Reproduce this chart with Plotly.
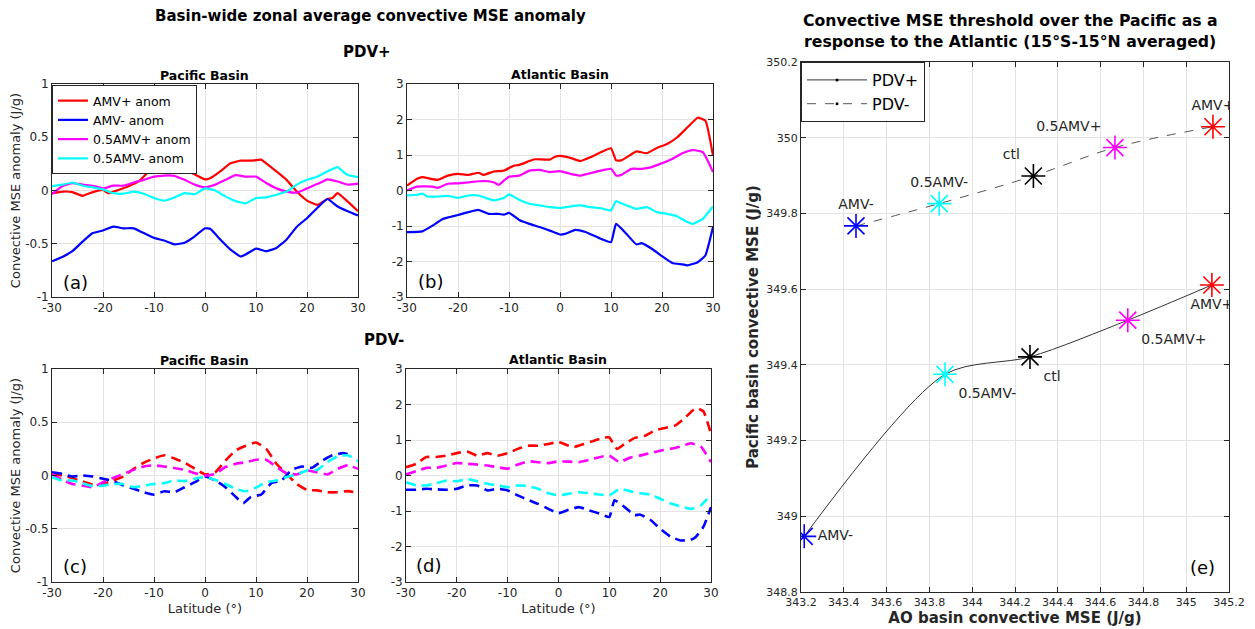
import plotly.graph_objects as go

# ---------------- data ----------------
lat_a_red = [-30,-28,-26,-24,-22,-20,-19,-17,-15,-13,-11,-10,-8,-6,-4,-2,0,1,3,5,7,9,11,12,14,16,18,20,22,24,25,26,28,30]
a_red = [-0.025,-0.01,-0.015,-0.05,-0.015,0.005,-0.025,0.005,0.04,0.085,0.18,0.225,0.22,0.21,0.195,0.15,0.105,0.115,0.18,0.255,0.28,0.28,0.29,0.255,0.18,0.1,-0.01,-0.095,-0.135,-0.08,-0.07,-0.025,-0.105,-0.195]
lat_a_blue = [-30,-28,-26,-24,-22,-20,-18,-16,-14,-12,-10,-8,-6,-4,-2,0,1,3,5,7,8,10,12,14,16,18,20,22,24,26,28,30]
a_blue = [-0.665,-0.625,-0.57,-0.48,-0.4,-0.375,-0.34,-0.355,-0.355,-0.4,-0.445,-0.47,-0.505,-0.49,-0.43,-0.355,-0.36,-0.46,-0.555,-0.62,-0.6,-0.545,-0.57,-0.54,-0.46,-0.34,-0.26,-0.165,-0.08,-0.15,-0.195,-0.235]
lat_a_mag = [-30,-28,-26,-24,-22,-20,-18,-16,-14,-12,-10,-8,-6,-4,-2,0,2,4,6,8,10,12,14,16,18,20,22,24,26,28,30]
a_mag = [-0.035,0.04,0.07,0.055,0.045,0.02,0.045,0.045,0.075,0.1,0.13,0.14,0.138,0.1,0.055,0.03,0.055,0.1,0.145,0.13,0.13,0.07,0.02,-0.01,-0.02,0.02,0.06,0.105,0.085,0.055,0.065]
lat_a_cyan = [-30,-28,-26,-24,-22,-20,-18,-16,-14,-12,-10,-8,-6,-4,-2,0,2,4,6,8,10,12,14,16,18,20,22,24,26,27,28,30]
a_cyan = [0.04,0.055,0.075,0.045,0.03,0.01,-0.025,-0.03,-0.01,-0.03,-0.07,-0.095,-0.065,-0.025,-0.035,0.02,0.0,-0.055,-0.1,-0.12,-0.07,-0.065,-0.04,-0.01,0.055,0.1,0.13,0.18,0.22,0.18,0.145,0.125]

lat_b_red = [-30,-28,-27,-24,-22,-20,-18,-16,-15,-13,-11,-9,-8,-6,-5,-2,-1,0,2,4,6,8,10,11,12,14,15,17,19,21,23,25,27,28.5,30]
b_red = [0.14,0.33,0.375,0.3,0.42,0.47,0.44,0.5,0.44,0.535,0.56,0.7,0.72,0.83,0.88,0.87,0.95,0.975,0.92,0.83,0.94,1.08,1.19,0.85,0.85,1.02,1.1,1.05,1.2,1.31,1.5,1.78,2.05,1.97,0.98]
lat_b_mag = [-30,-28,-25,-24,-22,-20,-18,-16,-14,-13,-12,-11,-10,-8,-6,-4,-2,0,2,4,6,8,10,11,12,14,16,18,20,22,24,26,28,30]
b_mag = [0.0,0.11,0.11,0.075,0.19,0.2,0.23,0.26,0.26,0.23,0.16,0.28,0.39,0.42,0.56,0.58,0.52,0.545,0.47,0.42,0.49,0.56,0.61,0.42,0.44,0.61,0.61,0.66,0.77,0.89,1.05,1.14,1.08,0.52]
lat_b_cyan = [-30,-28,-27,-26,-24,-22,-20,-18,-16,-14,-13,-11,-10,-8,-6,-4,-2,0,2,4,6,8,10,11,12,14,15,17,19,21,23,25,26,28,30]
b_cyan = [-0.14,-0.12,-0.09,-0.17,-0.17,-0.15,-0.21,-0.14,-0.14,-0.235,-0.28,-0.21,-0.11,-0.26,-0.375,-0.42,-0.47,-0.49,-0.45,-0.42,-0.47,-0.5,-0.56,-0.3,-0.36,-0.47,-0.52,-0.47,-0.61,-0.66,-0.73,-0.89,-0.94,-0.8,-0.45]
lat_b_blue = [-30,-27,-25,-23,-20,-18,-16,-14,-12,-11,-10,-8,-6,-4,-2,0,1,3,5,8,10,11,13,15,16,18,20,22,24,25,27,28.5,30]
b_blue = [-1.17,-1.15,-0.99,-0.8,-0.69,-0.61,-0.545,-0.66,-0.66,-0.68,-0.63,-0.83,-0.94,-1.03,-1.13,-1.24,-1.22,-1.11,-1.17,-1.36,-1.455,-0.94,-1.22,-1.52,-1.48,-1.64,-1.85,-2.04,-2.08,-2.11,-2.02,-1.83,-1.03]

lat_c_red = [-30,-27,-25,-22,-20,-18,-16,-14,-12,-10,-8,-6,-4,-2,0,2,4,6,8,10,12,14,16,18,20,22,24,26,28,30]
c_red = [0.015,-0.01,-0.04,-0.085,-0.08,-0.047,-0.01,0.063,0.12,0.16,0.19,0.16,0.12,0.063,0.01,0.03,0.14,0.235,0.28,0.31,0.25,0.11,0.015,-0.08,-0.135,-0.14,-0.157,-0.157,-0.147,-0.165]
lat_c_blue = [-30,-28,-26,-24,-22,-20,-18,-16,-14,-12,-10,-8,-6,-4,-2,0,2,4,6,7.5,9,11,13,15,17,19,21,23,25,27,29]
c_blue = [0.03,0.015,-0.01,0.0,-0.01,-0.03,-0.053,-0.095,-0.125,-0.157,-0.18,-0.148,-0.157,-0.11,-0.063,-0.01,-0.047,-0.11,-0.2,-0.26,-0.2,-0.18,-0.072,-0.047,0.053,0.085,0.072,0.14,0.19,0.21,0.19]
lat_c_mag = [-30,-28,-26,-24,-22,-20,-18,-16,-14,-12,-10,-8,-6,-4,-2,0,2,4,6,8,10,12,14,16,18,20,22,24,26,28,30]
c_mag = [0.015,-0.04,-0.08,-0.095,-0.11,-0.063,-0.022,0.015,0.053,0.085,0.095,0.085,0.07,0.053,0.022,0.0,0.015,0.08,0.11,0.125,0.148,0.148,0.08,0.022,0.01,0.047,0.03,0.01,0.063,0.095,0.063]
lat_c_cyan = [-30,-28,-26,-24,-22,-20,-18,-16,-14,-12,-10,-8,-6,-4,-2,0,2,4,6,8,10,12,14,16,18,20,22,24,26,28,30]
c_cyan = [-0.015,-0.047,-0.047,-0.072,-0.1,-0.095,-0.08,-0.08,-0.11,-0.095,-0.08,-0.072,-0.047,-0.053,-0.03,-0.015,-0.04,-0.08,-0.125,-0.148,-0.115,-0.063,-0.047,-0.015,0.01,0.047,0.053,0.125,0.18,0.19,0.135]

lat_d_red = [-30,-28,-26,-24,-22,-20,-18,-16,-14,-12,-10,-8,-6,-4,-2,0,2,3,5,7,9,10,11.5,13,15,17,19,21,23,25,27,28.5,30]
d_red = [0.235,0.33,0.52,0.52,0.56,0.63,0.675,0.56,0.63,0.56,0.63,0.75,0.84,0.84,0.89,0.94,0.84,0.8,0.89,0.98,1.07,1.07,0.75,0.89,1.06,1.12,1.27,1.34,1.41,1.64,1.9,1.81,1.17]
lat_d_mag = [-30,-28,-26,-24,-22,-20,-18,-16,-14,-12,-10,-8,-6,-4,-2,0,2,4,6,8,10,12,14,16,18,20,22,24,26,28,30]
d_mag = [0.03,0.12,0.215,0.215,0.28,0.35,0.33,0.31,0.28,0.235,0.19,0.31,0.4,0.375,0.35,0.4,0.39,0.375,0.44,0.515,0.56,0.375,0.5,0.56,0.63,0.7,0.75,0.815,0.91,0.815,0.375]
lat_d_cyan = [-30,-28,-26,-24,-22,-20,-18,-16,-14,-12,-10,-8,-6,-4,-2,0,2,4,6,8,10,12,14,16,18,20,22,24,26,28,30]
d_cyan = [-0.19,-0.28,-0.28,-0.215,-0.14,-0.16,-0.1,-0.16,-0.235,-0.28,-0.33,-0.28,-0.3,-0.375,-0.5,-0.56,-0.515,-0.47,-0.5,-0.535,-0.56,-0.375,-0.44,-0.5,-0.535,-0.655,-0.78,-0.87,-0.94,-0.845,-0.535]
lat_d_blue = [-30,-28,-26,-24,-22,-20,-18,-16,-14,-12,-10,-8,-6,-4,-2,0,2,4,6,8,10,11,13,15,16,18,20,22,24,26,27,28.5,30]
d_blue = [-0.4,-0.4,-0.375,-0.39,-0.4,-0.375,-0.28,-0.28,-0.42,-0.375,-0.42,-0.56,-0.685,-0.8,-0.94,-1.06,-0.965,-0.89,-0.98,-1.07,-1.17,-0.7,-0.89,-1.12,-1.1,-1.24,-1.5,-1.72,-1.83,-1.81,-1.73,-1.45,-0.89]

# panel e
exp_labels = ["AMV-", "0.5AMV-", "ctl", "0.5AMV+", "AMV+"]
exp_colors = ["#0000ff", "#00ffff", "#000000", "#ff00ff", "#ff0000"]
e_pos_x = [343.215, 343.873, 344.27, 344.727, 345.12]
e_pos_y = [348.947, 349.375, 349.421, 349.518, 349.611]
e_neg_x = [343.457, 343.846, 344.286, 344.667, 345.125]
e_neg_y = [349.767, 349.826, 349.899, 349.974, 350.029]

lat_ticks = [-30, -20, -10, 0, 10, 20, 30]
lat_ticktext = ["-30", "-20", "-10", "0", "10", "20", "30"]
pac_ticks = [-1, -0.5, 0, 0.5, 1]
pac_ticktext = ["-1", "-0.5", "0", "0.5", "1"]
atl_ticks = [-3, -2, -1, 0, 1, 2, 3]
atl_ticktext = ["-3", "-2", "-1", "0", "1", "2", "3"]
e_xticks = [343.2, 343.4, 343.6, 343.8, 344.0, 344.2, 344.4, 344.6, 344.8, 345.0, 345.2]
e_xticktext = ["343.2", "343.4", "343.6", "343.8", "344", "344.2", "344.4", "344.6", "344.8", "345", "345.2"]
e_yticks = [348.8, 349.0, 349.2, 349.4, 349.6, 349.8, 350.0, 350.2]
e_yticktext = ["348.8", "349", "349.2", "349.4", "349.6", "349.8", "350", "350.2"]

# ---------------- figure ----------------
W, H = 1255, 629
OFF = 8  # page body margin
FONT = "DejaVu Sans"
AXC = "#262626"
fig = go.Figure()

def px_x(p):
    return (p - OFF) / W

def px_y(p):
    return 1 - (p - OFF) / H

col = {"AMV+ anom": "#ff0000", "AMV- anom": "#0000ff", "0.5AMV+ anom": "#ff00ff", "0.5AMV- anom": "#00ffff"}

panels = [
    ("x", "y", [(lat_a_red, a_red, "AMV+ anom"), (lat_a_blue, a_blue, "AMV- anom"),
                (lat_a_mag, a_mag, "0.5AMV+ anom"), (lat_a_cyan, a_cyan, "0.5AMV- anom")], "solid", True),
    ("x2", "y2", [(lat_b_red, b_red, "AMV+ anom"), (lat_b_blue, b_blue, "AMV- anom"),
                  (lat_b_mag, b_mag, "0.5AMV+ anom"), (lat_b_cyan, b_cyan, "0.5AMV- anom")], "solid", False),
    ("x3", "y3", [(lat_c_red, c_red, "AMV+ anom"), (lat_c_blue, c_blue, "AMV- anom"),
                  (lat_c_mag, c_mag, "0.5AMV+ anom"), (lat_c_cyan, c_cyan, "0.5AMV- anom")], "10px,6px", False),
    ("x4", "y4", [(lat_d_red, d_red, "AMV+ anom"), (lat_d_blue, d_blue, "AMV- anom"),
                  (lat_d_mag, d_mag, "0.5AMV+ anom"), (lat_d_cyan, d_cyan, "0.5AMV- anom")], "10px,6px", False),
]
for xa, ya, lines, dash, showleg in panels:
    lw = 2.2 if dash == "solid" else 2.6
    for xs, ys, name in lines:
        fig.add_trace(go.Scatter(x=xs, y=ys, mode="lines", name=name, xaxis=xa, yaxis=ya,
                                 line=dict(color=col[name], width=lw, dash=dash, shape="spline", smoothing=0.4),
                                 showlegend=showleg, legend="legend"))

# panel e lines
fig.add_trace(go.Scatter(x=e_pos_x, y=e_pos_y, mode="lines+markers", name="PDV+", xaxis="x5", yaxis="y5",
                         line=dict(color="#333333", width=1, shape="spline", smoothing=0.8),
                         marker=dict(color="black", size=3), legend="legend2"))
fig.add_trace(go.Scatter(x=e_neg_x, y=e_neg_y, mode="lines+markers", name="PDV-", xaxis="x5", yaxis="y5",
                         line=dict(color="#555555", width=1, dash="dash", shape="spline", smoothing=1.0),
                         marker=dict(color="black", size=3), legend="legend2"))
pos_textpos = ["middle right", "bottom right", "bottom right", "bottom right", "bottom center"]
neg_textpos = ["top center", "top center", "top left", "top left", "top center"]
for xs, ys, tp in [(e_pos_x, e_pos_y, pos_textpos), (e_neg_x, e_neg_y, neg_textpos)]:
    fig.add_trace(go.Scatter(x=xs, y=ys, mode="markers+text", xaxis="x5", yaxis="y5",
                             text=exp_labels, textposition=tp,
                             textfont=dict(family=FONT, size=14, color=AXC),
                             marker=dict(symbol="asterisk-open", size=20, color=exp_colors,
                                         line=dict(width=1.6, color=exp_colors)),
                             showlegend=False))

def axis(domain, rng, tv, tt, anchor, tsize=12, title=None, tfs=13, tbold=False, standoff=4):
    d = dict(domain=domain, range=rng, tickvals=tv, ticktext=tt, anchor=anchor,
             showline=True, mirror="ticks", linecolor=AXC, linewidth=1,
             ticks="inside", ticklen=5, tickcolor=AXC, automargin=False,
             showgrid=True, gridcolor="#e3e3e3", gridwidth=1, zeroline=False,
             tickfont=dict(family=FONT, size=tsize, color=AXC))
    if title:
        txt = "<b>%s</b>" % title if tbold else title
        d["title"] = dict(text=txt, font=dict(family=FONT, size=tfs, color=AXC), standoff=standoff)
    return d

xa_a = [px_x(52), px_x(358)]
xa_b = [px_x(407), px_x(713)]
xa_c = [px_x(52), px_x(358)]
xa_d = [px_x(406), px_x(711)]
ya_top = [px_y(297), px_y(84)]
ya_bot = [px_y(582), px_y(369)]

ylab = "Convective MSE anomaly (J/g)"
fig.update_layout(
    xaxis=axis(xa_a, [-30, 30], lat_ticks, lat_ticktext, "y"),
    yaxis=axis(ya_top, [-1, 1], pac_ticks, pac_ticktext, "x", title=ylab),
    xaxis2=axis(xa_b, [-30, 30], lat_ticks, lat_ticktext, "y2"),
    yaxis2=axis(ya_top, [-3, 3], atl_ticks, atl_ticktext, "x2"),
    xaxis3=axis(xa_c, [-30, 30], lat_ticks, lat_ticktext, "y3", title="Latitude (°)"),
    yaxis3=axis(ya_bot, [-1, 1], pac_ticks, pac_ticktext, "x3", title=ylab),
    xaxis4=axis(xa_d, [-30, 30], lat_ticks, lat_ticktext, "y4", title="Latitude (°)"),
    yaxis4=axis(ya_bot, [-3, 3], atl_ticks, atl_ticktext, "x4"),
    xaxis5=axis([px_x(801), px_x(1229)], [343.2, 345.2], e_xticks, e_xticktext, "y5", tsize=11,
                title="AO basin convective MSE (J/g)", tfs=15, tbold=True),
    yaxis5=axis([px_y(592), px_y(62)], [348.8, 350.2], e_yticks, e_yticktext, "x5", tsize=11,
                title="Pacific basin convective MSE (J/g)", tfs=15, tbold=True),
    width=W, height=H, autosize=False,
    margin=dict(l=0, r=0, t=0, b=0, autoexpand=False),
    paper_bgcolor="white", plot_bgcolor="white",
    font=dict(family=FONT, color=AXC),
    legend=dict(x=px_x(52), y=px_y(85), xanchor="left", yanchor="top",
                bgcolor="white", bordercolor=AXC, borderwidth=1,
                font=dict(family=FONT, size=12.5, color="black"), tracegroupgap=0,
                itemwidth=30),
    legend2=dict(x=px_x(801), y=px_y(62), xanchor="left", yanchor="top",
                 bgcolor="white", bordercolor=AXC, borderwidth=1,
                 font=dict(family=FONT, size=16, color="black"), itemwidth=60),
)

ann = []
def add_text(x, y, text, size, bold=False, xanchor="center"):
    t = "<b>%s</b>" % text if bold else text
    ann.append(dict(x=px_x(x), y=px_y(y), xref="paper", yref="paper", text=t, showarrow=False,
                    xanchor=xanchor, yanchor="middle", font=dict(family=FONT, size=size, color="black")))

add_text(370, 16, "Basin-wide zonal average convective MSE anomaly", 15, bold=True)
add_text(367, 52, "PDV+", 15, bold=True)
add_text(384, 340, "PDV-", 15, bold=True)
add_text(205, 75, "Pacific Basin", 12.5, bold=True)
add_text(560, 74, "Atlantic Basin", 12.5, bold=True)
add_text(205, 360, "Pacific Basin", 12.5, bold=True)
add_text(558, 359, "Atlantic Basin", 12.5, bold=True)
add_text(1010, 20, "Convective MSE threshold over the Pacific as a", 15.7, bold=True)
add_text(1010, 41, "response to the Atlantic (15°S-15°N averaged)", 15.7, bold=True)
add_text(75, 282, "(a)", 18)
add_text(430, 281, "(b)", 18)
add_text(75, 566, "(c)", 18)
add_text(428, 565, "(d)", 18)
add_text(1202, 567, "(e)", 18)
fig.update_layout(annotations=ann)

fig.write_html("out.html")
